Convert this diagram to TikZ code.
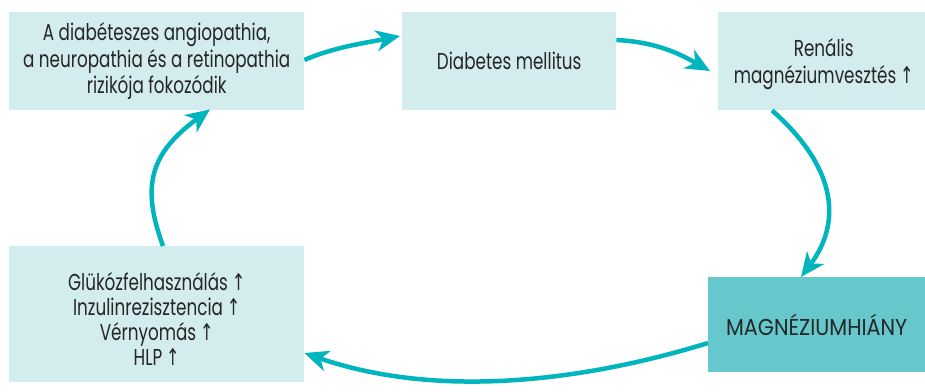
\documentclass[tikz,border=0pt]{standalone}
\usepackage{fontspec}
\setmainfont{Poppins}[FakeStretch=0.73]
\newfontfamily\capsf{Poppins}[FakeStretch=0.9]
\newfontfamily\symf{DejaVu Sans}[FakeStretch=0.7]
\usetikzlibrary{arrows.meta}
\definecolor{lightbox}{HTML}{D3ECEE}
\definecolor{darkbox}{HTML}{66C8CC}
\definecolor{arrowc}{HTML}{00B5BD}
\definecolor{txt}{HTML}{262626}
\newcommand{\up}{\,{\symf ↑}}
\begin{document}
\begin{tikzpicture}[x=1pt,y=-1pt,
  box/.style={fill=lightbox, draw=none, anchor=north west, inner sep=0pt,
    align=center, text=txt, font=\fontsize{23}{26.5}\selectfont},
  darkcell/.style={box, fill=darkbox, font=\capsf\fontsize{23}{26.5}\selectfont},
  txtnode/.style={inner sep=0pt, align=center, text=txt, font=\fontsize{23}{25}\selectfont},
  flow/.style={draw=arrowc, line width=4.5pt,
    -{Stealth[length=24pt,width=21pt,inset=7pt]}}]
\useasboundingbox (0,0) rectangle (925,391);
\node[box, minimum width=295pt, minimum height=98pt] (b1) at (9,12)
  {A diabéteszes angiopathia,\\a neuropathia és a retinopathia\\rizikója fokozódik};
\node[box, minimum width=214pt, minimum height=98pt] (b2) at (402,12)
  {Diabetes mellitus};
\node[box, minimum width=207pt, minimum height=98pt] (b3) at (718,12) {};
\node[txtnode, font=\fontsize{23}{27}\selectfont] (t3) at ([xshift=2pt,yshift=-3pt]b3.center)
  {Renális\\magnéziumvesztés\up};
\node[box, minimum width=295pt, minimum height=136pt] (b4) at (9,246) {};
\node[txtnode] (t4) at ([yshift=-5pt]b4.center)
  {Glükózfelhasználás\up\\Inzulinrezisztencia\up\\Vérnyomás\up\\HLP\up};
\node[darkcell, minimum width=217pt, minimum height=95pt] (b5) at (708,277)
  {MAGNÉZIUMHIÁNY};
\draw[flow] ([yshift=-48pt]b1.north east) .. controls +(30,-13) and +(-35,7) .. ([xshift=-2pt,yshift=-24pt]b2.north west);
\draw[flow] ([yshift=-28pt]b2.north east) .. controls +(40,2) and +(-30,-17) .. ([xshift=-8pt,yshift=-59pt]b3.north west);
\draw[flow] ([xshift=54pt]b3.south west) .. controls +(68,60) and +(39,-52) .. ([xshift=93pt]b5.north west);
\draw[flow] ([yshift=-66pt]b5.north west) .. controls +(-130,40) and +(130,45) .. ([yshift=-107pt]b4.north east);
\draw[flow] ([xshift=154pt]b4.north west) .. controls +(-22,-60) and +(-60,44) .. ([xshift=201pt,yshift=1pt]b1.south west);
\end{tikzpicture}
\end{document}
